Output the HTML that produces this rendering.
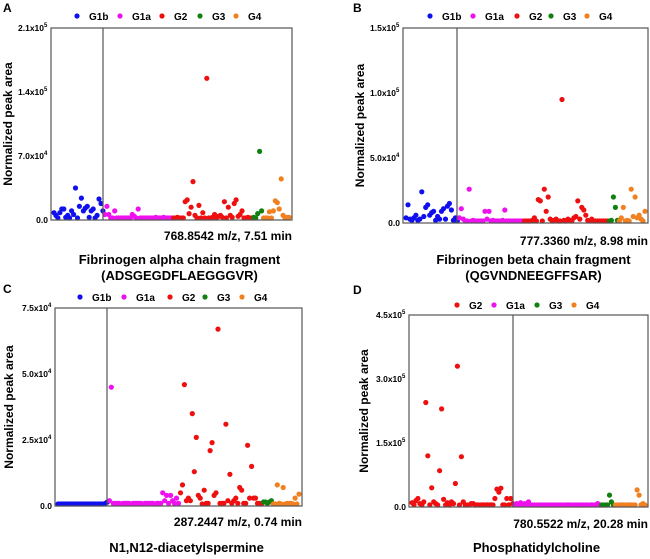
<!DOCTYPE html>
<html><head><meta charset="utf-8"><style>
html,body{margin:0;padding:0;background:#fff;}
svg{display:block;font-family:"Liberation Sans",Arial,sans-serif;font-weight:bold;}
</style></head><body>
<svg id="fig" width="650" height="559" viewBox="0 0 650 559" xmlns="http://www.w3.org/2000/svg"></svg>
<script>
// Panel A values (x1e3)
const aG1b=[8,5,2,8,12,12,3,5,2,10,6,35,2,15,24,10,13,15,3,10,12,2,5,23,18,10];
const aG1a=[6,15,6,2,1,10,2,1,1,2,1,1,0.5,2,6,4,1,12,2,1,1,2,1,1,0.5,1,3,2,1,1,3,2,1,1,0.5];
const aG2=[2,1,3,1,0.5,2,20,22,7,14,42,5,1,16,2,8,1,155,2,1,3,6,2,4,5,3,20,1,14,5,3,18,22,4,6,10,1,2,3,1,0.5];
const aG3=[3,1,7,75,10];
const aG4=[2,2,1,9,2,10,21,19,12,45,5,2,3,3];
// Panel B
const bG1b=[4,14,3,2,4,6,2,3,24,5,12,14,6,8,9,2,5,3,9,11,3,13,15,10,2,4,1];
const bG1a=[4,11,3,1,1,26,1,2,1,1,1,1,1,9,3,9,1,2,1,1,1,1,2,10,1,1,1,1,1,0.5,1,1,1];
const bG2=[1,1,1,1,2,4,1,18,17,1,26,9,20,3,1,2,3,1,1,95,2,1,3,2,1,4,5,17,3,12,10,6,2,1,3,1,0.5,1,1,1,0.5,1,1];
const bG3=[1,2,20,12,2];
const bG4=[1,4,12,1,2,1,26,5,20,4,6,3,1,9];
// Panel C
const cG1b=[0.5,0.5,0.5,0.5,0.5,0.5,0.5,0.5,0.5,0.5,0.5,0.5,0.5,0.5,0.5,0.5,0.5,0.5,0.5,0.5,0.5,0.5,0.5,0.5,1,1.5];
const cG1a=[2,45,1,1,1,1,0.5,1,1,1,1,0.5,1,1,1,1,1,0.5,1,1,1,1,1,0.5,1,1,1,5,2,4,1,4,2,1,3,1];
const cG2=[5,8,46,2,3,2,35,13,26,4,3,0.5,6,1,1,21,24,4,5,67,1,1,1,31,2,12,1,2,3,1,7,6,1,1,23,3,15,3,3,1,1,0.5];
const cG3=[1.5,1.5,1,1.5,2];
const cG4=[0.5,0.5,8,1,0.5,7,0.5,1,1,1,0.5,3,0.5,4.5];
// Panel D
const dG2=[10,5,15,20,8,2,12,245,120,5,45,12,8,3,85,230,18,5,10,3,12,8,55,330,2,118,12,3,2,5,8,8,3,5,2,3,5,2,5,3,5,3,20,42,35,44,5,2,20,5,20,8];
const dG1a=[5,8,5,10,3,8,6,12,3,2,2,3,3,2,3,3,2,3,3,3,4,3,3,2,3,3,3,5,3,3,4,3,3,3,4,3,3,3,4,5,3,3,8,3];
const dG3=[2,1,2,1,28,12,3];
const dG4=[3,2,2,5,3,2,2,5,3,2,3,40,28,5,8,3];
const ticksA=["0.0","7.0x10","1.4x10","2.1x10"], expA=["","4","5","5"];
const ticksB=["0.0","5.0x10","1.0x10","1.5x10"], expB=["","4","5","5"];
const ticksC=["0.0","2.5x10","5.0x10","7.5x10"], expC=["","4","4","4"];
const ticksD=["0.0","1.5x10","3.0x10","4.5x10"], expD=["","5","5","5"];

const COL={G1b:"#1010ee",G1a:"#ee10ee",G2:"#ee1010",G3:"#108010",G4:"#f08020"};
const NS="http://www.w3.org/2000/svg";
const svg=document.getElementById('fig');
function mk(t,a,p){const e=document.createElementNS(NS,t);for(const k in a)e.setAttribute(k,a[k]);(p||svg).appendChild(e);return e;}

const panels=[
 {id:"a",letter:"A",lx:3,ly:12,x0:51,x1:292,y0:28,y1:220,max:210,div:103,ticks:ticksA,exps:expA,
  groups:[["G1b",aG1b],["G1a",aG1a],["G2",aG2],["G3",aG3],["G4",aG4]],
  legY:16,leg:[["G1b",77],["G1a",120],["G2",162],["G3",200],["G4",236]],
  ylabX:8,sub:"768.8542 m/z, 7.51 min",subY:240,titles:[["Fibrinogen alpha chain fragment",264],["(ADSGEGDFLAEGGGVR)",280]]},
 {id:"b",letter:"B",lx:353,ly:12,x0:403,x1:648,y0:28,y1:223,max:150,div:457,ticks:ticksB,exps:expB,
  groups:[["G1b",bG1b],["G1a",bG1a],["G2",bG2],["G3",bG3],["G4",bG4]],
  legY:16,leg:[["G1b",430],["G1a",473],["G2",517],["G3",551],["G4",587]],
  ylabX:360,sub:"777.3360 m/z, 8.98 min",subY:245,titles:[["Fibrinogen beta chain fragment",264],["(QGVNDNEEGFFSAR)",280]]},
 {id:"c",letter:"C",lx:3,ly:293,x0:55,x1:302,y0:308,y1:506,max:75,div:107,ticks:ticksC,exps:expC,
  groups:[["G1b",cG1b],["G1a",cG1a],["G2",cG2],["G3",cG3],["G4",cG4]],
  legY:297,leg:[["G1b",80],["G1a",124],["G2",170],["G3",205],["G4",242]],
  ylabX:9,sub:"287.2447 m/z, 0.74 min",subY:526,titles:[["N1,N12-diacetylspermine",552]]},
 {id:"d",letter:"D",lx:353,ly:294,x0:409,x1:648,y0:315,y1:507,max:450,div:513,ticks:ticksD,exps:expD,
  groups:[["G2",dG2],["G1a",dG1a],["G3",dG3],["G4",dG4]],
  legY:305,leg:[["G2",457],["G1a",494],["G3",537],["G4",574]],
  ylabX:364,sub:"780.5522 m/z, 20.28 min",subY:528,titles:[["Phosphatidylcholine",552]]}
];

panels.forEach(p=>{
  const g=mk('g',{});
  
  
  const L=mk('text',{x:p.lx,y:p.ly,'font-size':12},g);L.textContent=p.letter;
  
  
  const n=p.groups.reduce((s,q)=>s+q[1].length,0);
  const xs=i=>p.x0+2+(i+0.5)*(p.x1-p.x0-4)/n;
  const ys=v=>p.y1-v/p.max*(p.y1-p.y0);
  let idx=0;
  p.groups.forEach(([name,arr])=>{
    arr.forEach(v=>{
      const c=mk('circle',{cx:xs(idx).toFixed(1),cy:Math.min(ys(v),p.y1-2).toFixed(1),r:2.6,fill:COL[name]},g);
      
      
      idx++;
    });
  });
  const box=mk('rect',{x:p.x0,y:p.y0,width:p.x1-p.x0,height:p.y1-p.y0,fill:'none',stroke:'#555','stroke-width':1.2},g);
  
  
  const dv=mk('line',{x1:p.div,x2:p.div,y1:p.y0,y2:p.y1,stroke:'#555','stroke-width':1.2},g);
  
  
  p.ticks.forEach((t,i)=>{
    const y=p.y1-i/(p.ticks.length-1)*(p.y1-p.y0);
    const tx=mk('text',{x:p.x0-3-(p.exps[i]?4:0),y:y+3,'font-size':8.5,'text-anchor':'end'},g);
    tx.textContent=t;
    
    
    if(p.exps[i]){const s=mk('text',{x:p.x0-7,y:y-1,'font-size':6},g);s.textContent=p.exps[i];
      
      }
  });
  const cy=(p.y0+p.y1)/2;
  const yl=mk('text',{x:p.ylabX,y:cy,'font-size':12,'text-anchor':'middle',transform:`rotate(-90 ${p.ylabX} ${cy})`,dy:4},g);
  yl.textContent="Normalized peak area";
  
  
  p.leg.forEach(([name,x])=>{
    const c=mk('circle',{cx:x,cy:p.legY,r:2.6,fill:COL[name]},g);
    
    
    const t=mk('text',{x:x+12,y:p.legY+4,'font-size':10},g);t.textContent=name;
    
    
  });
  const st=mk('text',{x:p.x1,y:p.subY,'font-size':12,'text-anchor':'end'},g);st.textContent=p.sub;
  
  
  p.titles.forEach(([t,y])=>{
    const e=mk('text',{x:(p.x0+p.x1)/2+8,y:y,'font-size':13,'text-anchor':'middle'},g);e.textContent=t;
    
    
  });
});
</script>
</body></html>
